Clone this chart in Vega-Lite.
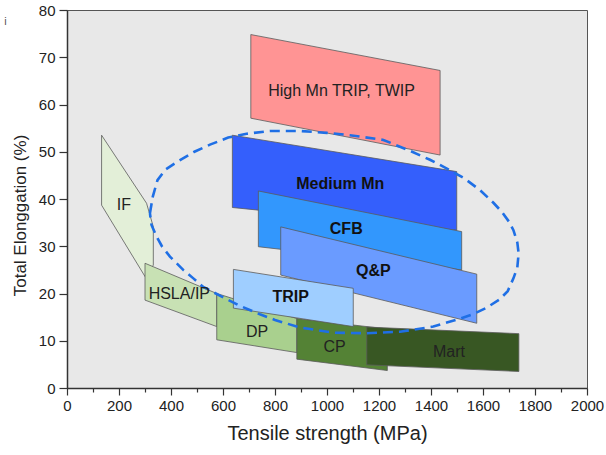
{
  "$schema": "https://vega.github.io/schema/vega-lite/v6.json",
  "width": 520,
  "height": 378,
  "autosize": {"type": "none"},
  "padding": {"left": 67, "top": 10, "right": 19, "bottom": 67},
  "background": "white",
  "config": {
    "font": "Liberation Sans",
    "view": {"fill": "#e8e8e8", "stroke": "#555555", "strokeWidth": 1},
    "axis": {
      "domainColor": "#333333",
      "domainWidth": 1.5,
      "tickColor": "#333333",
      "tickWidth": 1.2,
      "labelFont": "Liberation Sans",
      "labelFontSize": 15,
      "labelColor": "#222222",
      "titleFont": "Liberation Sans",
      "titleFontWeight": "normal",
      "titleColor": "#222222",
      "grid": false
    }
  },
  "datasets": {
    "shapes": [
      {"shape": "IF", "i": 0, "x": 133, "y": 53.5},
      {"shape": "IF", "i": 1, "x": 306, "y": 39.1},
      {"shape": "IF", "i": 2, "x": 332, "y": 34.1},
      {"shape": "IF", "i": 3, "x": 332, "y": 26.0},
      {"shape": "IF", "i": 4, "x": 300, "y": 23.6},
      {"shape": "IF", "i": 5, "x": 133, "y": 38.7},
      {"shape": "IF", "i": 6, "x": 133, "y": 53.5},
      {"shape": "HSLA/IP", "i": 0, "x": 300, "y": 26.4},
      {"shape": "HSLA/IP", "i": 1, "x": 576, "y": 20.0},
      {"shape": "HSLA/IP", "i": 2, "x": 576, "y": 13.0},
      {"shape": "HSLA/IP", "i": 3, "x": 300, "y": 18.6},
      {"shape": "HSLA/IP", "i": 4, "x": 300, "y": 26.4},
      {"shape": "DP", "i": 0, "x": 576, "y": 20.0},
      {"shape": "DP", "i": 1, "x": 884, "y": 14.7},
      {"shape": "DP", "i": 2, "x": 884, "y": 7.5},
      {"shape": "DP", "i": 3, "x": 576, "y": 10.2},
      {"shape": "DP", "i": 4, "x": 576, "y": 20.0},
      {"shape": "CP", "i": 0, "x": 884, "y": 14.7},
      {"shape": "CP", "i": 1, "x": 1232, "y": 12.5},
      {"shape": "CP", "i": 2, "x": 1232, "y": 3.7},
      {"shape": "CP", "i": 3, "x": 884, "y": 6.1},
      {"shape": "CP", "i": 4, "x": 884, "y": 14.7},
      {"shape": "Mart", "i": 0, "x": 1153, "y": 12.9},
      {"shape": "Mart", "i": 1, "x": 1738, "y": 11.5},
      {"shape": "Mart", "i": 2, "x": 1738, "y": 3.5},
      {"shape": "Mart", "i": 3, "x": 1153, "y": 4.9},
      {"shape": "Mart", "i": 4, "x": 1153, "y": 12.9},
      {"shape": "High Mn", "i": 0, "x": 707, "y": 74.8},
      {"shape": "High Mn", "i": 1, "x": 1435, "y": 67.2},
      {"shape": "High Mn", "i": 2, "x": 1435, "y": 49.3},
      {"shape": "High Mn", "i": 3, "x": 707, "y": 57.1},
      {"shape": "High Mn", "i": 4, "x": 707, "y": 74.8},
      {"shape": "Medium Mn", "i": 0, "x": 636, "y": 53.5},
      {"shape": "Medium Mn", "i": 1, "x": 1499, "y": 45.8},
      {"shape": "Medium Mn", "i": 2, "x": 1499, "y": 33.4},
      {"shape": "Medium Mn", "i": 3, "x": 636, "y": 38.2},
      {"shape": "Medium Mn", "i": 4, "x": 636, "y": 53.5},
      {"shape": "CFB", "i": 0, "x": 736, "y": 41.7},
      {"shape": "CFB", "i": 1, "x": 1518, "y": 33.1},
      {"shape": "CFB", "i": 2, "x": 1518, "y": 25.0},
      {"shape": "CFB", "i": 3, "x": 736, "y": 29.9},
      {"shape": "CFB", "i": 4, "x": 736, "y": 41.7},
      {"shape": "Q&P", "i": 0, "x": 822, "y": 34.1},
      {"shape": "Q&P", "i": 1, "x": 1576, "y": 24.1},
      {"shape": "Q&P", "i": 2, "x": 1576, "y": 13.7},
      {"shape": "Q&P", "i": 3, "x": 822, "y": 23.9},
      {"shape": "Q&P", "i": 4, "x": 822, "y": 34.1},
      {"shape": "TRIP", "i": 0, "x": 640, "y": 25.1},
      {"shape": "TRIP", "i": 1, "x": 1101, "y": 21.1},
      {"shape": "TRIP", "i": 2, "x": 1101, "y": 13.0},
      {"shape": "TRIP", "i": 3, "x": 640, "y": 16.9},
      {"shape": "TRIP", "i": 4, "x": 640, "y": 25.1}
    ],
    "ellipse": [
      {"i": 0, "x": 319, "y": 37.0},
      {"i": 1, "x": 330, "y": 40.5},
      {"i": 2, "x": 348, "y": 44.0},
      {"i": 3, "x": 378, "y": 46.2},
      {"i": 4, "x": 422, "y": 47.8},
      {"i": 5, "x": 490, "y": 50.0},
      {"i": 6, "x": 550, "y": 51.5},
      {"i": 7, "x": 620, "y": 53.0},
      {"i": 8, "x": 691, "y": 53.8},
      {"i": 9, "x": 780, "y": 54.4},
      {"i": 10, "x": 896, "y": 54.4},
      {"i": 11, "x": 1000, "y": 54.0},
      {"i": 12, "x": 1088, "y": 53.5},
      {"i": 13, "x": 1217, "y": 52.5},
      {"i": 14, "x": 1319, "y": 50.2},
      {"i": 15, "x": 1396, "y": 48.3},
      {"i": 16, "x": 1473, "y": 46.1},
      {"i": 17, "x": 1530, "y": 44.3},
      {"i": 18, "x": 1588, "y": 41.9},
      {"i": 19, "x": 1640, "y": 39.2},
      {"i": 20, "x": 1672, "y": 37.3},
      {"i": 21, "x": 1700, "y": 35.2},
      {"i": 22, "x": 1717, "y": 33.4},
      {"i": 23, "x": 1732, "y": 30.8},
      {"i": 24, "x": 1737, "y": 28.5},
      {"i": 25, "x": 1732, "y": 25.5},
      {"i": 26, "x": 1717, "y": 23.2},
      {"i": 27, "x": 1695, "y": 20.5},
      {"i": 28, "x": 1665, "y": 18.8},
      {"i": 29, "x": 1614, "y": 17.0},
      {"i": 30, "x": 1560, "y": 15.6},
      {"i": 31, "x": 1512, "y": 14.7},
      {"i": 32, "x": 1409, "y": 13.0},
      {"i": 33, "x": 1281, "y": 11.9},
      {"i": 34, "x": 1153, "y": 11.6},
      {"i": 35, "x": 1024, "y": 11.7},
      {"i": 36, "x": 896, "y": 12.8},
      {"i": 37, "x": 800, "y": 14.4},
      {"i": 38, "x": 742, "y": 15.6},
      {"i": 39, "x": 665, "y": 17.4},
      {"i": 40, "x": 614, "y": 18.8},
      {"i": 41, "x": 524, "y": 21.4},
      {"i": 42, "x": 486, "y": 23.2},
      {"i": 43, "x": 447, "y": 25.0},
      {"i": 44, "x": 396, "y": 27.8},
      {"i": 45, "x": 365, "y": 30.0},
      {"i": 46, "x": 345, "y": 32.0},
      {"i": 47, "x": 325, "y": 34.5},
      {"i": 48, "x": 319, "y": 37.0}
    ],
    "labels": [
      {"label": "High Mn TRIP, TWIP", "x": 1056, "y": 62.8, "bold": false},
      {"label": "Medium Mn", "x": 1051, "y": 43.1, "bold": true},
      {"label": "CFB", "x": 1074, "y": 33.6, "bold": true},
      {"label": "Q&P", "x": 1178, "y": 24.8, "bold": true},
      {"label": "TRIP", "x": 860, "y": 19.2, "bold": true},
      {"label": "IF", "x": 219, "y": 38.7, "bold": false},
      {"label": "HSLA/IP", "x": 432, "y": 19.9, "bold": false},
      {"label": "DP", "x": 731, "y": 11.8, "bold": false},
      {"label": "CP", "x": 1029, "y": 8.6, "bold": false},
      {"label": "Mart", "x": 1469, "y": 7.7, "bold": false}
    ],
    "corner": [
      {"label": "i", "x": -237, "y": 77.5}
    ]
  },
  "encoding": {
    "x": {
      "field": "x", "type": "quantitative",
      "scale": {"domain": [0, 2000], "nice": false, "zero": false},
      "axis": {
        "title": "Tensile strength (MPa)",
        "titleFontSize": 20,
        "titlePadding": 10,
        "values": [0, 100, 200, 300, 400, 500, 600, 700, 800, 900, 1000, 1100, 1200, 1300, 1400, 1500, 1600, 1700, 1800, 1900, 2000],
        "labelExpr": "datum.value % 200 === 0 ? datum.label : ''",
        "tickSize": {"condition": {"test": "datum.value % 200 === 0", "value": 7}, "value": 4},
        "labelPadding": 3,
        "format": "d",
        "labelFlush": false
      }
    },
    "y": {
      "field": "y", "type": "quantitative",
      "scale": {"domain": [0, 80], "nice": false, "zero": false},
      "axis": {
        "title": "Total Elonggation (%)",
        "titleFontSize": 17,
        "titlePadding": 9,
        "titleY": 205,
        "values": [0, 10, 20, 30, 40, 50, 60, 70, 80],
        "tickSize": 8,
        "labelPadding": 4,
        "labelFlush": false
      }
    }
  },
  "layer": [
    {
      "data": {"name": "shapes"},
      "mark": {"type": "line", "stroke": "#5a5a5a", "strokeWidth": 0.8, "strokeJoin": "miter"},
      "encoding": {
        "detail": {"field": "shape"},
        "order": {"field": "i", "type": "quantitative"},
        "fill": {
          "field": "shape", "type": "nominal", "legend": null,
          "scale": {
            "domain": ["IF", "HSLA/IP", "DP", "CP", "Mart", "High Mn", "Medium Mn", "CFB", "Q&P", "TRIP"],
            "range": ["#e3efd8", "#c8e1b4", "#a9d08e", "#548235", "#385723", "#ff9494", "#345ffc", "#3297fd", "#6a9bff", "#9fceff"]
          }
        }
      }
    },
    {
      "data": {"name": "ellipse"},
      "mark": {"type": "line", "stroke": "#1f6fe5", "strokeWidth": 2.6, "strokeDash": [10, 6]},
      "encoding": {
        "order": {"field": "i", "type": "quantitative"}
      }
    },
    {
      "data": {"name": "labels"},
      "transform": [{"filter": "!datum.bold"}],
      "mark": {"type": "text", "fontSize": 16, "color": "#222222", "font": "Liberation Sans"},
      "encoding": {"text": {"field": "label"}}
    },
    {
      "data": {"name": "labels"},
      "transform": [{"filter": "datum.bold"}],
      "mark": {"type": "text", "fontSize": 16, "fontWeight": "bold", "color": "#111111", "font": "Liberation Sans"},
      "encoding": {"text": {"field": "label"}}
    },
    {
      "data": {"name": "corner"},
      "mark": {"type": "text", "fontSize": 11, "color": "#555555", "font": "Liberation Sans", "clip": false},
      "encoding": {"text": {"field": "label"}}
    }
  ]
}
